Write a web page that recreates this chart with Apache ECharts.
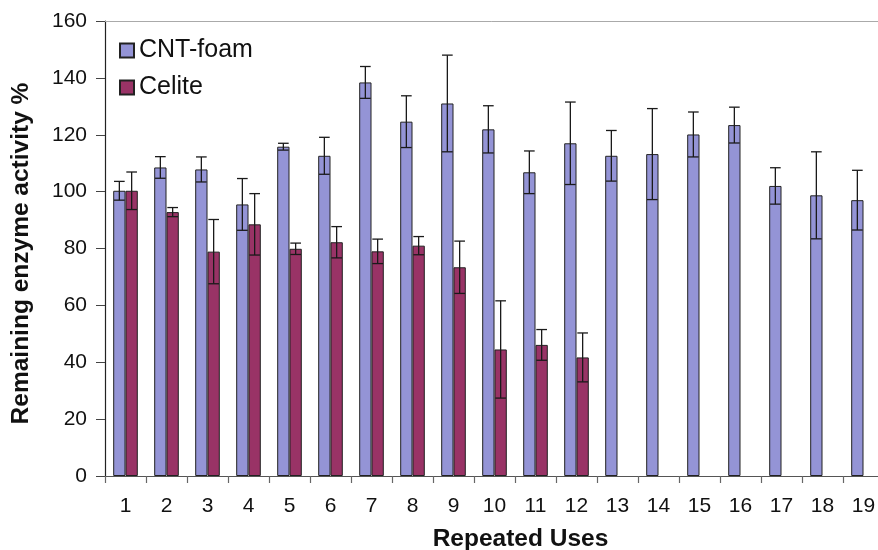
<!DOCTYPE html>
<html>
<head>
<meta charset="utf-8">
<script src="https://cdn.jsdelivr.net/npm/echarts@6/dist/echarts.min.js"></script>
<style>html,body{margin:0;padding:0;background:#fff;overflow:hidden}#c{width:878px;height:550px}</style>
</head>
<body>
<div id="c"></div>
<script>
const categories = ['1','2','3','4','5','6','7','8','9','10','11','12','13','14','15','16','17','18','19'];
const cntFoam = [100.3, 108.5, 107.8, 95.5, 115.8, 112.6, 138.4, 124.6, 131.0, 121.9, 106.8, 117.0, 112.6, 113.2, 120.1, 123.4, 102.0, 98.7, 97.0];
const cntFoamErr = [3.3, 3.8, 4.4, 9.1, 1.2, 6.5, 5.6, 9.1, 17.0, 8.3, 7.5, 14.5, 8.9, 16.0, 7.9, 6.3, 6.4, 15.3, 10.5];
const celite = [100.3, 92.8, 78.9, 88.5, 79.9, 82.2, 79.0, 81.0, 73.4, 44.5, 46.1, 41.7, null, null, null, null, null, null, null];
const celiteErr = [6.6, 1.6, 11.3, 10.8, 2.0, 5.5, 4.3, 3.2, 9.2, 17.1, 5.4, 8.6, null, null, null, null, null, null, null];
const yTicks = { min: 0, max: 160, interval: 20 };

const FONT = "'Liberation Sans', Arial, Helvetica, sans-serif";
const BAR_FRAC = 0.30;

function errData(vals, errs) {
  const out = [];
  vals.forEach((v, i) => { if (v != null && errs[i] != null) out.push([i, v, errs[i]]); });
  return out;
}

function errRenderer(side) {
  return function (params, api) {
    const idx = api.value(0), v = api.value(1), e = api.value(2);
    const bw = api.size([1, 0])[0];
    const off = side * bw * BAR_FRAC / 2;
    const hi = api.coord([idx, v + e]);
    const lo = api.coord([idx, v - e]);
    const x = hi[0] + off;
    const cap = bw * 0.13;
    const style = { stroke: '#1a1a1a', lineWidth: 1.3 };
    return {
      type: 'group',
      children: [
        { type: 'line', shape: { x1: x, y1: hi[1], x2: x, y2: lo[1] }, style: style },
        { type: 'line', shape: { x1: x - cap, y1: hi[1], x2: x + cap, y2: hi[1] }, style: style },
        { type: 'line', shape: { x1: x - cap, y1: lo[1], x2: x + cap, y2: lo[1] }, style: style }
      ]
    };
  };
}

const chart = echarts.init(document.getElementById('c'), null, { renderer: 'canvas' });
chart.setOption({
  backgroundColor: '#fff',
  animation: false,
  textStyle: { fontFamily: FONT },
  grid: { left: 105, width: 779, top: 21, height: 455, containLabel: false, outerBoundsMode: 'none' },
  legend: {
    orient: 'vertical',
    left: 114,
    top: 33,
    itemWidth: 14,
    itemHeight: 14,
    itemGap: 12,
    icon: 'rect',
    data: ['CNT-foam', 'Celite'],
    textStyle: { fontFamily: FONT, fontSize: 25, color: '#111' }
  },
  xAxis: [{
    type: 'category',
    data: categories,
    position: 'bottom',
    name: 'Repeated Uses',
    nameLocation: 'middle',
    nameGap: 51,
    nameTextStyle: { fontFamily: FONT, fontSize: 24.5, fontWeight: 'bold', color: '#111', padding: [0, 0, 0, 52] },
    axisLine: { lineStyle: { color: '#555', width: 1.2 } },
    axisTick: { show: true, alignWithLabel: false, length: 7, lineStyle: { color: '#666', width: 1.2 } },
    axisLabel: { fontFamily: FONT, fontSize: 21, color: '#111', margin: 20 },
    splitLine: { show: false }
  }, {
    type: 'category',
    data: categories,
    position: 'top',
    axisLine: { show: true, lineStyle: { color: '#aaa', width: 1 } },
    axisTick: { show: false },
    axisLabel: { show: false },
    splitLine: { show: false }
  }],
  yAxis: {
    type: 'value',
    min: yTicks.min, max: yTicks.max, interval: yTicks.interval,
    name: 'Remaining enzyme activity %',
    nameLocation: 'middle',
    nameGap: 71,
    nameTextStyle: { fontFamily: FONT, fontSize: 24.5, fontWeight: 'bold', color: '#111', padding: [0, 10, 0, 0] },
    axisLine: { show: true, lineStyle: { color: '#222', width: 1.2 } },
    axisTick: { show: true, inside: false, length: 9, lineStyle: { color: '#444', width: 1 } },
    axisLabel: { fontFamily: FONT, fontSize: 21, color: '#111', margin: 18 },
    splitLine: { show: false }
  },
  series: [
    {
      name: 'CNT-foam', type: 'bar', data: cntFoam,
      barWidth: (BAR_FRAC * 100) + '%', barGap: '0%',
      itemStyle: { color: '#9494d6', borderColor: '#222', borderWidth: 1 }
    },
    {
      name: 'Celite', type: 'bar', data: celite,
      barWidth: (BAR_FRAC * 100) + '%', barGap: '0%',
      itemStyle: { color: '#993366', borderColor: '#222', borderWidth: 1 }
    },
    {
      name: 'CNT-foam err', type: 'custom', data: errData(cntFoam, cntFoamErr),
      renderItem: errRenderer(-1), z: 5, silent: true,
      encode: { x: 0, y: 1 }
    },
    {
      name: 'Celite err', type: 'custom', data: errData(celite, celiteErr),
      renderItem: errRenderer(1), z: 5, silent: true,
      encode: { x: 0, y: 1 }
    }
  ]
});
</script>
</body>
</html>
